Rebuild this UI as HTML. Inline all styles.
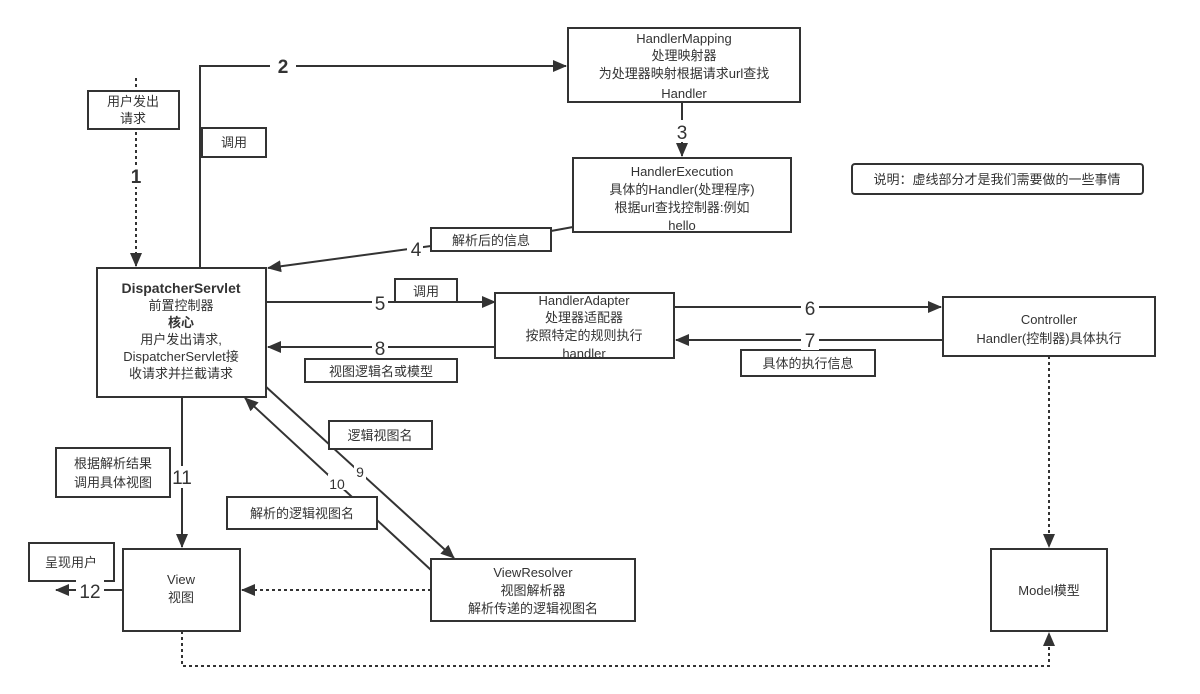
<!DOCTYPE html>
<html><head><meta charset="utf-8"><style>
html,body{margin:0;padding:0;background:#fff;}
svg{display:block;}
text{font-family:"Liberation Sans","Noto Sans CJK SC",sans-serif;font-size:13px;fill:#333;text-anchor:middle;}
.n{font-size:19px;}
.b{font-weight:bold;}
</style></head><body>
<svg width="1200" height="694" viewBox="0 0 1200 694" xmlns="http://www.w3.org/2000/svg">
<defs>
<marker id="a" markerWidth="10" markerHeight="10" refX="9" refY="5" orient="auto" markerUnits="userSpaceOnUse"><path d="M0,0 L10,5 L0,10 z" fill="#333"/></marker>
<marker id="b" markerWidth="14" markerHeight="12" refX="13" refY="6" orient="auto" markerUnits="userSpaceOnUse"><path d="M0,0 L14,6 L0,12 z" fill="#333"/></marker>
</defs>
<g stroke="#333" stroke-width="2" fill="none">
<!-- 1 dotted -->
<path d="M136,78 V266" stroke-dasharray="3,3" marker-end="url(#b)"/>
<!-- 2 -->
<path d="M200,268 V66 H566" marker-end="url(#b)"/>
<!-- 3 -->
<path d="M682,102 V156" marker-end="url(#b)"/>
<!-- 4 -->
<path d="M573,227 L551,231"/>
<path d="M431,246 L268,268" marker-end="url(#b)"/>
<!-- 5 -->
<path d="M266,302 H495" marker-end="url(#b)"/>
<!-- 8 -->
<path d="M495,347 H268" marker-end="url(#b)"/>
<!-- 6 -->
<path d="M674,307 H941" marker-end="url(#b)"/>
<!-- 7 -->
<path d="M943,340 H676" marker-end="url(#b)"/>
<!-- controller to model dotted -->
<path d="M1049,356 V547" stroke-dasharray="3,3" marker-end="url(#b)"/>
<!-- 11 -->
<path d="M182,397 V547" marker-end="url(#b)"/>
<!-- 12 -->
<path d="M123,590 H56" marker-end="url(#b)"/>
<!-- viewresolver to view dotted -->
<path d="M431,590 H242" stroke-dasharray="3,3" marker-end="url(#b)"/>
<!-- bottom dotted -->
<path d="M182,631 V666 H1049 V633" stroke-dasharray="3,3" marker-end="url(#b)"/>
<!-- 9 -->
<path d="M264,385 L454,558" marker-end="url(#b)"/>
<!-- 10 -->
<path d="M431,570 L245,398" marker-end="url(#b)"/>
</g>
<g fill="#fff" stroke="#333" stroke-width="2">
<rect x="97" y="268" width="169" height="129"/>
<rect x="88" y="91" width="91" height="38"/>
<rect x="202" y="128" width="64" height="29"/>
<rect x="568" y="28" width="232" height="74"/>
<rect x="573" y="158" width="218" height="74"/>
<rect x="431" y="228" width="120" height="23"/>
<rect x="395" y="279" width="62" height="23"/>
<rect x="495" y="293" width="179" height="65"/>
<rect x="305" y="359" width="152" height="23"/>
<rect x="943" y="297" width="212" height="59"/>
<rect x="741" y="350" width="134" height="26"/>
<rect x="852" y="164" width="291" height="30" rx="3"/>
<rect x="991" y="549" width="116" height="82"/>
<rect x="56" y="448" width="114" height="49"/>
<rect x="123" y="549" width="117" height="82"/>
<rect x="29" y="543" width="85" height="38"/>
<rect x="431" y="559" width="204" height="62"/>
<rect x="329" y="421" width="103" height="28"/>
<rect x="227" y="497" width="150" height="32"/>
</g>
<g>
<rect x="270" y="58" width="26" height="18" fill="#fff"/><text class="n b" x="283" y="73">2</text>
<rect x="127" y="165" width="18" height="22" fill="#fff"/><text class="n b" x="136" y="183">1</text>
<rect x="674" y="120" width="16" height="22" fill="#fff"/><text class="n" x="682" y="139">3</text>
<rect x="407" y="238" width="16" height="20" fill="#fff"/><text class="n" x="416" y="256">4</text>
<rect x="372" y="292" width="16" height="22" fill="#fff"/><text class="n" x="380" y="310">5</text>
<rect x="372" y="337" width="16" height="20" fill="#fff"/><text class="n" x="380" y="355">8</text>
<rect x="801" y="297" width="18" height="22" fill="#fff"/><text class="n" x="810" y="315">6</text>
<rect x="801" y="330" width="18" height="20" fill="#fff"/><text class="n" x="810" y="347">7</text>
<rect x="172" y="466" width="22" height="22" fill="#fff"/><text class="n" x="182" y="484">11</text>
<rect x="76" y="580" width="28" height="22" fill="#fff"/><text class="n" x="90" y="598">12</text>
<rect x="354" y="464" width="12" height="16" fill="#fff"/><text x="360" y="477" style="font-size:14px">9</text>
<rect x="328" y="474" width="18" height="16" fill="#fff"/><text x="337" y="489" style="font-size:14px">10</text>

<text x="133" y="106">用户发出</text><text x="133" y="123">请求</text>
<text x="234" y="147">调用</text>
<text class="b" x="181" y="293" style="font-size:14px">DispatcherServlet</text>
<text x="181" y="310">前置控制器</text>
<text class="b" x="181" y="327">核心</text>
<text x="181" y="344">用户发出请求,</text>
<text x="181" y="361">DispatcherServlet接</text>
<text x="181" y="378">收请求并拦截请求</text>
<text x="684" y="43">HandlerMapping</text>
<text x="684" y="60">处理映射器</text>
<text x="684" y="78">为处理器映射根据请求url查找</text>
<text x="684" y="98">Handler</text>
<text x="682" y="176">HandlerExecution</text>
<text x="682" y="194">具体的Handler(处理程序)</text>
<text x="682" y="212">根据url查找控制器:例如</text>
<text x="682" y="230">hello</text>
<text x="491" y="245">解析后的信息</text>
<text x="426" y="296">调用</text>
<text x="584" y="305">HandlerAdapter</text>
<text x="584" y="322">处理器适配器</text>
<text x="584" y="340">按照特定的规则执行</text>
<text x="584" y="358">handler</text>
<text x="381" y="376">视图逻辑名或模型</text>
<text x="1049" y="324">Controller</text>
<text x="1049" y="343">Handler(控制器)具体执行</text>
<text x="808" y="368">具体的执行信息</text>
<text x="997" y="184">说明：虚线部分才是我们需要做的一些事情</text>
<text x="1049" y="595">Model模型</text>
<text x="113" y="468">根据解析结果</text><text x="113" y="487">调用具体视图</text>
<text x="181" y="584">View</text><text x="181" y="602">视图</text>
<text x="71" y="567">呈现用户</text>
<text x="533" y="577">ViewResolver</text>
<text x="533" y="595">视图解析器</text>
<text x="533" y="613">解析传递的逻辑视图名</text>
<text x="380" y="440">逻辑视图名</text>
<text x="302" y="518">解析的逻辑视图名</text>
</g>
</svg>
</body></html>
